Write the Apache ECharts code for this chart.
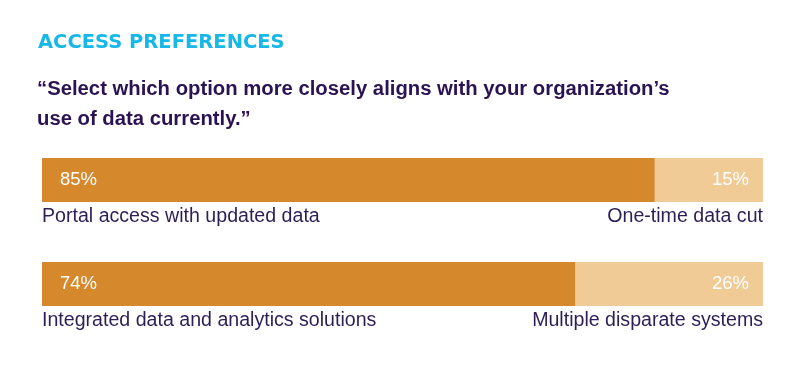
<!DOCTYPE html>
<html><head><meta charset="utf-8">
<script src="https://cdn.jsdelivr.net/npm/echarts@6/dist/echarts.min.js"></script>
<style>html,body{margin:0;padding:0;background:#fff}#c{width:800px;height:384px}</style>
</head><body><div id="c"></div>
<script>
const categories = ['Q1', 'Q2'];
const primaryValues = [85, 74];
const secondaryValues = [15, 26];
const primaryLabels = ['Portal access with updated data', 'Integrated data and analytics solutions'];
const secondaryLabels = ['One-time data cut', 'Multiple disparate systems'];
const heading = 'ACCESS PREFERENCES';
const question = '\u201cSelect which option more closely aligns with your organization\u2019s\nuse of data currently.\u201d';

const FONT = 'Liberation Sans';
const chart = echarts.init(document.getElementById('c'));
chart.setOption({
  animation: false,
  title: [
    { text: heading, left: 38, top: 33, padding: 0, textStyle: { fontFamily: 'DejaVu Sans', fontSize: 19.5, fontWeight: 'bold', color: '#17B8E8' } },
    { text: question, left: 37, top: 75, padding: 0, textStyle: { fontFamily: FONT, fontSize: 20.3, fontWeight: 'bold', color: '#2B1253', lineHeight: 29.5 } }
  ],
  grid: { left: 42, right: 37, top: 128, bottom: 48 },
  xAxis: { type: 'value', min: 0, max: 100, show: false },
  yAxis: { type: 'category', data: categories, inverse: true, show: false },
  series: [
    { type: 'bar', stack: 'a', data: primaryValues, barWidth: 44, itemStyle: { color: '#D6892C' },
      label: { show: true, position: 'insideLeft', distance: 18, formatter: '{c}%', color: '#fff', fontFamily: FONT, fontSize: 18.5 } },
    { type: 'bar', stack: 'a', data: secondaryValues, barWidth: 44, itemStyle: { color: '#F0CB96' },
      label: { show: true, position: 'insideRight', distance: 14, formatter: '{c}%', color: '#fff', fontFamily: FONT, fontSize: 18.5 } },
    { type: 'custom', data: categories.map((c, i) => [i]),
      renderItem: function (params, api) {
        const i = api.value(0);
        const l = api.coord([0, i]);
        const r = api.coord([100, i]);
        const f = '19.6px ' + FONT;
        return { type: 'group', children: [
          { type: 'text', x: l[0], y: l[1] + 37, style: { text: primaryLabels[i], fill: '#2D1E55', font: f, textAlign: 'left', textVerticalAlign: 'middle' } },
          { type: 'text', x: r[0], y: r[1] + 37, style: { text: secondaryLabels[i], fill: '#2D1E55', font: f, textAlign: 'right', textVerticalAlign: 'middle' } }
        ] };
      } }
  ]
});
</script></body></html>
